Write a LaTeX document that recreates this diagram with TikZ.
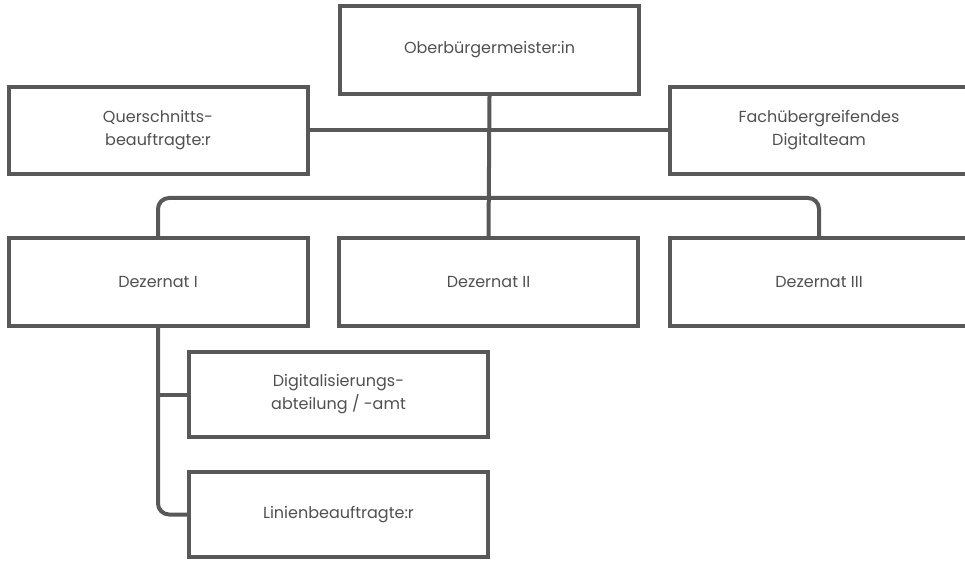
\documentclass[tikz,border=0pt]{standalone}
\usepackage{fontspec}
\setmainfont{Poppins}
\usetikzlibrary{positioning}
\definecolor{boxgray}{HTML}{585858}
\definecolor{textgray}{HTML}{505050}

\begin{document}
\begin{tikzpicture}[x=1pt, y=-1pt,
		unit/.style={draw=boxgray, line width=4pt, rectangle, minimum width=299pt,
			minimum height=87pt, align=center, text=textgray, inner sep=0pt,
			font=\fontsize{16}{23}\selectfont},
		link/.style={draw=boxgray, line width=4pt}]
		%%%%% START %%%%%
		
		\useasboundingbox (0, 0) rectangle (965, 561);
		\clip (0, 0) rectangle (965, 561);
		
		% top
		\node[unit, minimum height=88pt] (ob) at (489.5, 50) {Oberbürgermeister:in};
		\node[unit] (quer) at (158, 130.5) {Querschnitts-\\beauftragte:r};
		\node[unit] (fach) at (819, 130.5) {Fachübergreifendes\\Digitalteam};
		
		% dezernate
		\node[unit, minimum height=88pt] (dez1) at (158, 282) {Dezernat I};
		\node[unit, minimum height=88pt] (dez2) at (488.5, 282) {Dezernat II};
		\node[unit, minimum height=88pt] (dez3) at (819, 282) {Dezernat III};
		
		% below dezernat I
		\node[unit, minimum height=85pt] (digi) at (338.5, 394.5) {Digitalisierungs-\\abteilung / -amt};
		\node[unit, minimum height=85pt] (lin) at (338.5, 514.5) {Linienbeauftragte:r};
		
		\coordinate (bar) at (489, 198);
		
		\draw[link] (ob.south) -- (dez2.north);
		\draw[link] (quer.east) -- (fach.west);
		\draw[link, rounded corners=11pt] (dez1.north) |- (bar) -| (dez3.north);
		\draw[link, rounded corners=11pt] (dez1.south) |- (lin.west);
		\draw[link] (dez1.south |- digi.west) -- (digi.west);
		
		%%%%% END %%%%%
\end{tikzpicture}
\end{document}
